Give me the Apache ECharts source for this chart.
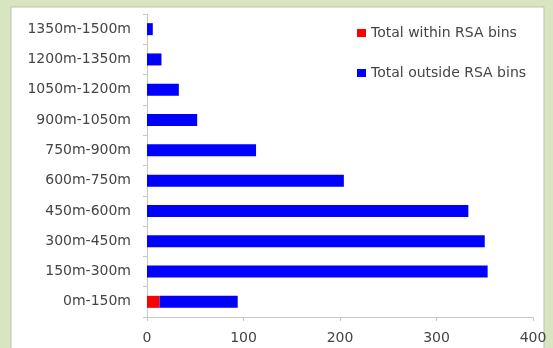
<!DOCTYPE html>
<html><head><meta charset="utf-8">
<script src="https://cdn.jsdelivr.net/npm/echarts@6/dist/echarts.min.js"></script>
<style>html,body{margin:0;padding:0;background:#fff}#c{width:553px;height:348px}</style>
</head><body><div id="c"></div>
<script>
const categories = ['0m-150m','150m-300m','300m-450m','450m-600m','600m-750m','750m-900m','900m-1050m','1050m-1200m','1200m-1350m','1350m-1500m'];
const withinRSA = [13,0,0,0,0,0,0,0,0,0];
const outsideRSA = [81,353,350,333,204,113,52,33,15,6];
const xTicks = [0,100,200,300,400];
const seriesNames = ['Total within RSA bins','Total outside RSA bins'];

const chart = echarts.init(document.getElementById('c'));
const font = 'DejaVu Sans';
chart.setOption({
  backgroundColor: '#d9e4c0',
  animation: false,
  graphic: [{type:'rect', shape:{x:11,y:7,width:533,height:345}, style:{fill:'#ffffff', stroke:'#b9c2ab', lineWidth:1}, z:-10}],
  grid: {left:147, right:20, top:14, bottom:31, containLabel:false},
  legend: {
    orient:'vertical', left:352, top:21, itemGap:26, itemWidth:9, itemHeight:8,
    icon:'rect', data: seriesNames,
    textStyle:{fontFamily:font, fontSize:14, color:'#454545'}
  },
  xAxis: {
    type:'value', min:xTicks[0], max:xTicks[xTicks.length-1], interval:100,
    axisLine:{show:true, lineStyle:{color:'#c8c8c8'}},
    axisTick:{show:true, length:4, lineStyle:{color:'#c8c8c8'}},
    splitLine:{show:false},
    axisLabel:{fontFamily:font, fontSize:14, color:'#454545', margin:14}
  },
  yAxis: {
    type:'category', data:categories,
    axisLine:{show:true, lineStyle:{color:'#c8c8c8'}},
    axisTick:{show:true, length:4, lineStyle:{color:'#c8c8c8'}},
    axisLabel:{fontFamily:font, fontSize:14, color:'#454545', margin:16}
  },
  series: [
    {name:seriesNames[0], type:'bar', stack:'t', data:withinRSA, barWidth:12, itemStyle:{color:'#ff0000'}},
    {name:seriesNames[1], type:'bar', stack:'t', data:outsideRSA, barWidth:12, itemStyle:{color:'#0000ff'}}
  ]
});
</script></body></html>
